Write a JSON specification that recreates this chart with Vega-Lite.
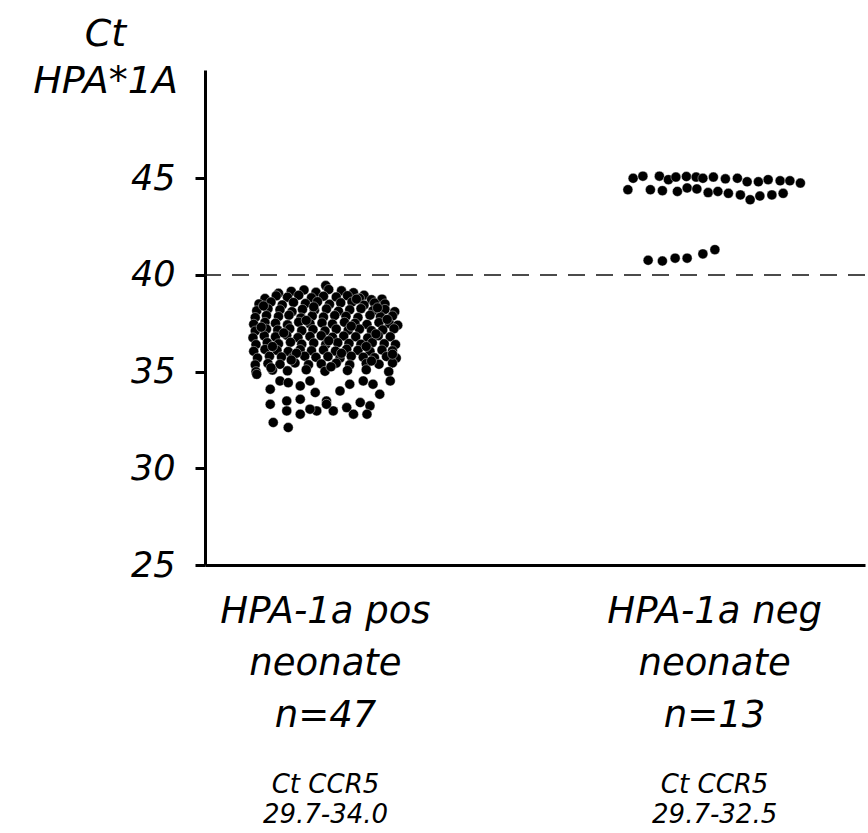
{
  "$schema": "https://vega.github.io/schema/vega-lite/v6.json",
  "autosize": "none",
  "width": 660,
  "height": 495,
  "padding": {"left": 205, "top": 70, "right": 3, "bottom": 268},
  "background": "white",
  "config": {"view": {"stroke": null}, "font": "DejaVu Sans"},
  "data": {"values": [
    {"group":"pos","spread":0.01,"ct":39.45},{"group":"pos","spread":0.76,"ct":38.75},{"group":"pos","spread":0.52,"ct":38.95},
    {"group":"pos","spread":-0.62,"ct":39.05},{"group":"pos","spread":-0.45,"ct":39.15},{"group":"pos","spread":-0.28,"ct":39.22},{"group":"pos","spread":-0.12,"ct":39.1},{"group":"pos","spread":0.05,"ct":39.25},{"group":"pos","spread":0.22,"ct":39.18},{"group":"pos","spread":0.38,"ct":39.08},
    {"group":"pos","spread":-0.8,"ct":38.78},{"group":"pos","spread":-0.65,"ct":38.92},{"group":"pos","spread":-0.5,"ct":38.85},{"group":"pos","spread":-0.35,"ct":38.95},{"group":"pos","spread":-0.18,"ct":38.82},{"group":"pos","spread":-0.02,"ct":38.9},{"group":"pos","spread":0.15,"ct":38.86},{"group":"pos","spread":0.3,"ct":38.93},{"group":"pos","spread":0.46,"ct":38.8},{"group":"pos","spread":0.62,"ct":38.72},
    {"group":"pos","spread":-0.88,"ct":38.5},{"group":"pos","spread":-0.72,"ct":38.6},{"group":"pos","spread":-0.57,"ct":38.45},{"group":"pos","spread":-0.42,"ct":38.58},{"group":"pos","spread":-0.26,"ct":38.52},{"group":"pos","spread":-0.1,"ct":38.62},{"group":"pos","spread":0.06,"ct":38.48},{"group":"pos","spread":0.21,"ct":38.56},{"group":"pos","spread":0.36,"ct":38.6},{"group":"pos","spread":0.52,"ct":38.44},{"group":"pos","spread":0.66,"ct":38.55},{"group":"pos","spread":0.8,"ct":38.5},
    {"group":"pos","spread":-0.91,"ct":38.15},{"group":"pos","spread":-0.76,"ct":38.25},{"group":"pos","spread":-0.6,"ct":38.2},{"group":"pos","spread":-0.44,"ct":38.1},{"group":"pos","spread":-0.3,"ct":38.22},{"group":"pos","spread":-0.14,"ct":38.18},{"group":"pos","spread":0.02,"ct":38.24},{"group":"pos","spread":0.18,"ct":38.12},{"group":"pos","spread":0.33,"ct":38.2},{"group":"pos","spread":0.48,"ct":38.26},{"group":"pos","spread":0.64,"ct":38.15},{"group":"pos","spread":0.8,"ct":38.22},{"group":"pos","spread":0.93,"ct":38.1},
    {"group":"pos","spread":-0.93,"ct":37.8},{"group":"pos","spread":-0.78,"ct":37.9},{"group":"pos","spread":-0.62,"ct":37.85},{"group":"pos","spread":-0.48,"ct":37.92},{"group":"pos","spread":-0.32,"ct":37.78},{"group":"pos","spread":-0.17,"ct":37.88},{"group":"pos","spread":-0.02,"ct":37.82},{"group":"pos","spread":0.13,"ct":37.9},{"group":"pos","spread":0.28,"ct":37.86},{"group":"pos","spread":0.44,"ct":37.8},{"group":"pos","spread":0.6,"ct":37.92},{"group":"pos","spread":0.74,"ct":37.84},{"group":"pos","spread":0.9,"ct":37.88},
    {"group":"pos","spread":-0.95,"ct":37.45},{"group":"pos","spread":-0.8,"ct":37.55},{"group":"pos","spread":-0.66,"ct":37.5},{"group":"pos","spread":-0.5,"ct":37.42},{"group":"pos","spread":-0.35,"ct":37.56},{"group":"pos","spread":-0.2,"ct":37.48},{"group":"pos","spread":-0.04,"ct":37.52},{"group":"pos","spread":0.1,"ct":37.46},{"group":"pos","spread":0.26,"ct":37.55},{"group":"pos","spread":0.4,"ct":37.5},{"group":"pos","spread":0.56,"ct":37.44},{"group":"pos","spread":0.72,"ct":37.54},{"group":"pos","spread":0.86,"ct":37.48},{"group":"pos","spread":0.97,"ct":37.4},
    {"group":"pos","spread":-0.93,"ct":37.1},{"group":"pos","spread":-0.78,"ct":37.2},{"group":"pos","spread":-0.63,"ct":37.15},{"group":"pos","spread":-0.47,"ct":37.22},{"group":"pos","spread":-0.31,"ct":37.12},{"group":"pos","spread":-0.16,"ct":37.18},{"group":"pos","spread":0.0,"ct":37.1},{"group":"pos","spread":0.15,"ct":37.2},{"group":"pos","spread":0.31,"ct":37.14},{"group":"pos","spread":0.46,"ct":37.2},{"group":"pos","spread":0.62,"ct":37.12},{"group":"pos","spread":0.77,"ct":37.16},{"group":"pos","spread":0.92,"ct":37.22},
    {"group":"pos","spread":-0.96,"ct":36.75},{"group":"pos","spread":-0.81,"ct":36.85},{"group":"pos","spread":-0.66,"ct":36.8},{"group":"pos","spread":-0.51,"ct":36.88},{"group":"pos","spread":-0.36,"ct":36.76},{"group":"pos","spread":-0.2,"ct":36.82},{"group":"pos","spread":-0.05,"ct":36.86},{"group":"pos","spread":0.1,"ct":36.78},{"group":"pos","spread":0.25,"ct":36.84},{"group":"pos","spread":0.41,"ct":36.8},{"group":"pos","spread":0.57,"ct":36.74},{"group":"pos","spread":0.71,"ct":36.86},{"group":"pos","spread":0.87,"ct":36.8},
    {"group":"pos","spread":-0.92,"ct":36.4},{"group":"pos","spread":-0.77,"ct":36.5},{"group":"pos","spread":-0.62,"ct":36.44},{"group":"pos","spread":-0.46,"ct":36.52},{"group":"pos","spread":-0.31,"ct":36.42},{"group":"pos","spread":-0.15,"ct":36.48},{"group":"pos","spread":0.01,"ct":36.4},{"group":"pos","spread":0.17,"ct":36.5},{"group":"pos","spread":0.32,"ct":36.46},{"group":"pos","spread":0.48,"ct":36.42},{"group":"pos","spread":0.63,"ct":36.5},{"group":"pos","spread":0.79,"ct":36.44},{"group":"pos","spread":0.94,"ct":36.4},
    {"group":"pos","spread":-0.95,"ct":36.05},{"group":"pos","spread":-0.8,"ct":36.15},{"group":"pos","spread":-0.64,"ct":36.1},{"group":"pos","spread":-0.49,"ct":36.04},{"group":"pos","spread":-0.33,"ct":36.14},{"group":"pos","spread":-0.18,"ct":36.08},{"group":"pos","spread":-0.02,"ct":36.12},{"group":"pos","spread":0.14,"ct":36.06},{"group":"pos","spread":0.29,"ct":36.16},{"group":"pos","spread":0.44,"ct":36.1},{"group":"pos","spread":0.6,"ct":36.05},{"group":"pos","spread":0.76,"ct":36.12},{"group":"pos","spread":0.9,"ct":36.08},
    {"group":"pos","spread":-0.9,"ct":35.7},{"group":"pos","spread":-0.74,"ct":35.8},{"group":"pos","spread":-0.58,"ct":35.76},{"group":"pos","spread":-0.43,"ct":35.72},{"group":"pos","spread":-0.27,"ct":35.8},{"group":"pos","spread":-0.12,"ct":35.74},{"group":"pos","spread":0.04,"ct":35.78},{"group":"pos","spread":0.2,"ct":35.7},{"group":"pos","spread":0.35,"ct":35.8},{"group":"pos","spread":0.51,"ct":35.75},{"group":"pos","spread":0.66,"ct":35.72},{"group":"pos","spread":0.82,"ct":35.78},{"group":"pos","spread":0.95,"ct":35.7},
    {"group":"pos","spread":-0.93,"ct":35.35},{"group":"pos","spread":-0.76,"ct":35.42},{"group":"pos","spread":-0.6,"ct":35.38},{"group":"pos","spread":-0.4,"ct":35.45},{"group":"pos","spread":-0.22,"ct":35.36},{"group":"pos","spread":-0.05,"ct":35.4},{"group":"pos","spread":0.15,"ct":35.44},{"group":"pos","spread":0.33,"ct":35.35},{"group":"pos","spread":0.55,"ct":35.42},{"group":"pos","spread":0.72,"ct":35.38},{"group":"pos","spread":0.9,"ct":35.45},
    {"group":"pos","spread":-0.92,"ct":35.0},{"group":"pos","spread":-0.7,"ct":35.08},{"group":"pos","spread":-0.5,"ct":35.04},{"group":"pos","spread":-0.25,"ct":35.1},{"group":"pos","spread":0.0,"ct":35.02},{"group":"pos","spread":0.3,"ct":35.06},{"group":"pos","spread":0.55,"ct":35.1},{"group":"pos","spread":0.85,"ct":35.0},
    {"group":"pos","spread":-0.85,"ct":37.3},{"group":"pos","spread":-0.55,"ct":37.0},{"group":"pos","spread":-0.25,"ct":37.65},{"group":"pos","spread":0.05,"ct":36.6},{"group":"pos","spread":0.35,"ct":37.35},{"group":"pos","spread":0.68,"ct":36.95},{"group":"pos","spread":0.83,"ct":37.7},{"group":"pos","spread":-0.7,"ct":36.3},{"group":"pos","spread":-0.38,"ct":35.95},{"group":"pos","spread":0.22,"ct":35.95},
    {"group":"pos","spread":0.55,"ct":36.3},{"group":"pos","spread":0.9,"ct":35.9},{"group":"pos","spread":-0.82,"ct":38.4},{"group":"pos","spread":-0.15,"ct":38.35},{"group":"pos","spread":0.42,"ct":38.75},{"group":"pos","spread":0.7,"ct":38.3},{"group":"pos","spread":-0.45,"ct":35.6},{"group":"pos","spread":0.08,"ct":35.25},{"group":"pos","spread":0.62,"ct":35.55},{"group":"pos","spread":-0.72,"ct":35.2},
    {"group":"pos","spread":-0.91,"ct":34.86},{"group":"pos","spread":-0.73,"ct":34.09},{"group":"pos","spread":-0.6,"ct":34.52},{"group":"pos","spread":-0.49,"ct":34.43},{"group":"pos","spread":-0.33,"ct":34.26},{"group":"pos","spread":-0.2,"ct":34.52},{"group":"pos","spread":-0.13,"ct":33.92},{"group":"pos","spread":-0.73,"ct":33.31},{"group":"pos","spread":-0.51,"ct":33.48},{"group":"pos","spread":-0.33,"ct":33.57},
    {"group":"pos","spread":0.02,"ct":33.48},{"group":"pos","spread":0.2,"ct":34.0},{"group":"pos","spread":0.33,"ct":34.35},{"group":"pos","spread":0.51,"ct":34.52},{"group":"pos","spread":0.64,"ct":34.35},{"group":"pos","spread":0.87,"ct":34.52},{"group":"pos","spread":0.73,"ct":33.83},{"group":"pos","spread":0.47,"ct":33.4},{"group":"pos","spread":0.6,"ct":33.23},{"group":"pos","spread":0.29,"ct":33.14},
    {"group":"pos","spread":0.11,"ct":32.97},{"group":"pos","spread":-0.11,"ct":32.97},{"group":"pos","spread":-0.2,"ct":33.06},{"group":"pos","spread":-0.51,"ct":32.97},{"group":"pos","spread":-0.69,"ct":32.37},{"group":"pos","spread":-0.49,"ct":32.11},{"group":"pos","spread":-0.33,"ct":32.8},{"group":"pos","spread":0.56,"ct":32.8},{"group":"pos","spread":0.38,"ct":32.8},{"group":"pos","spread":0.02,"ct":33.31},
    {"group":"neg","spread":-1.08,"ct":45.0},{"group":"neg","spread":-0.95,"ct":45.11},{"group":"neg","spread":-0.73,"ct":45.11},{"group":"neg","spread":-0.61,"ct":44.93},{"group":"neg","spread":-0.51,"ct":45.06},{"group":"neg","spread":-0.37,"ct":45.09},{"group":"neg","spread":-0.24,"ct":45.06},{"group":"neg","spread":-0.15,"ct":45.0},{"group":"neg","spread":-0.01,"ct":45.06},{"group":"neg","spread":0.15,"ct":44.97},{"group":"neg","spread":0.31,"ct":45.0},{"group":"neg","spread":0.44,"ct":44.82},{"group":"neg","spread":0.59,"ct":44.82},{"group":"neg","spread":0.72,"ct":44.93},{"group":"neg","spread":0.88,"ct":44.87},{"group":"neg","spread":1.01,"ct":44.87},{"group":"neg","spread":1.15,"ct":44.75},
    {"group":"neg","spread":-1.15,"ct":44.41},{"group":"neg","spread":-0.85,"ct":44.41},{"group":"neg","spread":-0.69,"ct":44.36},{"group":"neg","spread":-0.49,"ct":44.32},{"group":"neg","spread":-0.36,"ct":44.5},{"group":"neg","spread":-0.23,"ct":44.45},{"group":"neg","spread":-0.08,"ct":44.26},{"group":"neg","spread":0.05,"ct":44.32},{"group":"neg","spread":0.19,"ct":44.22},{"group":"neg","spread":0.35,"ct":44.14},{"group":"neg","spread":0.48,"ct":43.89},{"group":"neg","spread":0.61,"ct":44.08},{"group":"neg","spread":0.77,"ct":44.14},{"group":"neg","spread":0.92,"ct":44.22},
    {"group":"neg","spread":-0.88,"ct":40.76},{"group":"neg","spread":-0.69,"ct":40.72},{"group":"neg","spread":-0.52,"ct":40.87},{"group":"neg","spread":-0.36,"ct":40.87},{"group":"neg","spread":-0.15,"ct":41.09},{"group":"neg","spread":0.01,"ct":41.31}
  ]},
  "layer": [
    {
      "data": {"values": [{"threshold": 40}]},
      "mark": {"type": "rule", "strokeDash": [17, 11], "color": "#111", "strokeWidth": 1.5},
      "encoding": {"y": {"field": "threshold", "type": "quantitative", "title": ["Ct", "HPA*1A"]}}
    },
    {
      "mark": {"type": "point", "filled": true, "shape": "circle", "size": 100, "color": "#000", "opacity": 1, "stroke": "#ffffff", "strokeWidth": 0.4},
      "encoding": {
        "x": {
          "field": "group", "type": "nominal", "sort": ["pos", "neg"],
          "scale": {"type": "point", "padding": 0.348, "align": 0.443},
          "axis": {
            "orient": "bottom", "title": null, "labelAngle": 0,
            "labelExpr": "datum.value == 'pos' ? ['HPA-1a pos', 'neonate', 'n=47'] : ['HPA-1a neg', 'neonate', 'n=13']",
            "labelFont": "DejaVu Sans", "labelFontSize": 37, "labelFontStyle": "italic", "labelColor": "#000",
            "labelLineHeight": 52, "labelPadding": 28, "labelBaseline": "top", "labelLimit": 0,
            "labelOverlap": false, "labelFlush": false, "labelBound": false,
            "ticks": false, "tickSize": 0, "domainWidth": 3, "domainColor": "#000", "grid": false
          }
        },
        "xOffset": {"field": "spread", "type": "quantitative", "scale": {"domain": [-1, 1], "range": [-75, 75]}},
        "y": {
          "field": "ct", "type": "quantitative",
          "scale": {"domain": [25, 50.6], "nice": false, "zero": false},
          "axis": {
            "values": [25, 30, 35, 40, 45], "title": ["Ct", "HPA*1A"],
            "titleAngle": 0, "titleAlign": "center", "titleBaseline": "alphabetic",
            "titleX": -100, "titleY": -25, "titleFont": "DejaVu Sans", "titleFontSize": 38, "titleFontStyle": "italic",
            "titleFontWeight": "normal", "titleLineHeight": 47, "titleColor": "#000",
            "labelFont": "DejaVu Sans", "labelFontSize": 35, "labelFontStyle": "italic", "labelColor": "#000",
            "labelPadding": 20, "labelFlush": false, "labelOverlap": false,
            "tickSize": 10, "tickWidth": 3, "tickColor": "#000",
            "domainWidth": 3, "domainColor": "#000", "grid": false
          }
        }
      }
    },
    {
      "mark": {"type": "point", "opacity": 0},
      "encoding": {
        "x": {
          "field": "group", "type": "nominal", "sort": ["pos", "neg"],
          "axis": {
            "orient": "bottom", "title": null, "labelAngle": 0,
            "labelExpr": "datum.value == 'pos' ? ['Ct CCR5', '29.7-34.0'] : ['Ct CCR5', '29.7-32.5']",
            "labelFont": "DejaVu Sans", "labelFontSize": 26, "labelFontStyle": "italic", "labelColor": "#000",
            "labelLineHeight": 30, "labelPadding": 206, "labelBaseline": "top", "labelLimit": 0,
            "labelOverlap": false, "labelFlush": false, "labelBound": false,
            "ticks": false, "tickSize": 0, "domain": false, "grid": false
          }
        },
        "y": {"field": "ct", "type": "quantitative"}
      }
    }
  ],
  "resolve": {"axis": {"x": "independent"}}
}
